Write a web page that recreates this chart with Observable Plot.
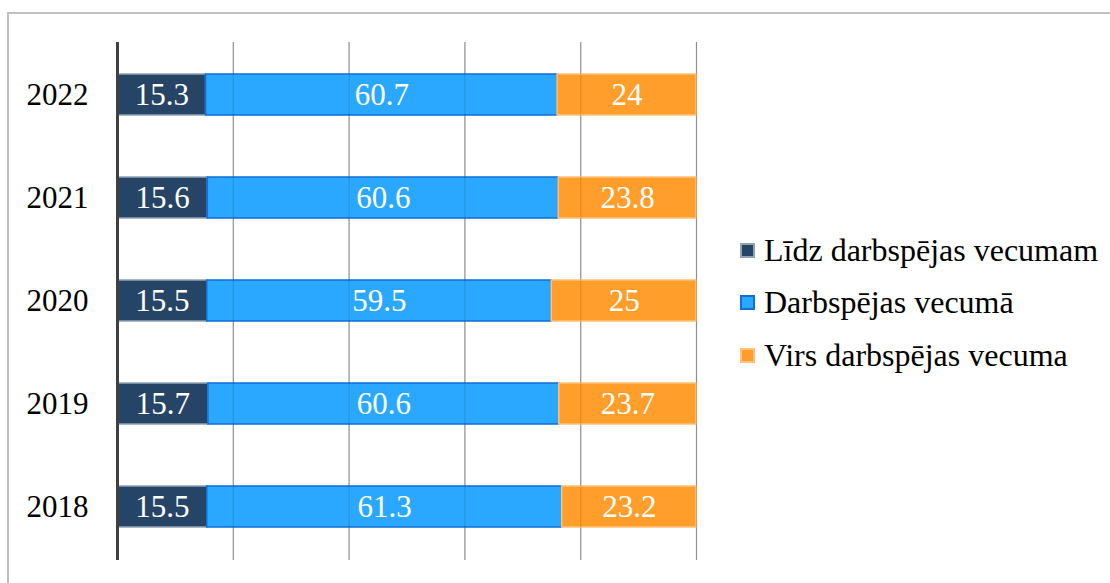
<!DOCTYPE html>
<html><head><meta charset="utf-8">
<script src="https://cdn.jsdelivr.net/npm/d3@7"></script>
<script src="https://cdn.jsdelivr.net/npm/@observablehq/plot@0.6"></script>
<style>
html,body{margin:0;padding:0;background:#fff;}
#wrap{position:relative;width:1110px;height:583px;overflow:hidden;}
#frame{position:absolute;left:7px;top:12px;width:1200px;height:700px;border-top:2px solid #c0c0c0;border-left:2px solid #c0c0c0;box-sizing:border-box;}
#chart{position:absolute;left:0;top:0;}
#legend{position:absolute;left:740px;top:224px;font-size:32px;color:#000;}
.item{display:flex;align-items:center;height:52.5px;white-space:nowrap;}
.sw{width:15px;height:15px;margin-right:9px;box-sizing:border-box;flex:none;}
</style></head>
<body><div id="wrap"><div id="frame"></div><div id="chart"></div><div id="legend"></div></div>
<script>
const years = ["2022","2021","2020","2019","2018"];
const categories = ["Līdz darbspējas vecumam","Darbspējas vecumā","Virs darbspējas vecuma"];
const below = [15.3, 15.6, 15.5, 15.7, 15.5];
const working = [60.7, 60.6, 59.5, 60.6, 61.3];
const above = [24, 23.8, 25, 23.7, 23.2];
const gridTicks = [20, 40, 60, 80, 100];
const colors = ["#264466", "#2aa8ff", "#ff9e2a"];
const strokes = ["#8fa3b5", "#0f6fd8", "#ffc27a"];

const series = [below, working, above];
const data = [];
years.forEach((y, i) => series.forEach((s, k) => data.push({year: y, cat: categories[k], value: s[i]})));

const font = "'Liberation Serif', 'Times New Roman', Times, serif";
document.getElementById("legend").style.fontFamily = font;
const plot = Plot.plot({
  width: 1110, height: 583,
  marginLeft: 117, marginRight: 414, marginTop: 42, marginBottom: 23,
  style: {fontFamily: font, background: "transparent", overflow: "visible"},
  x: {domain: [0, 100], axis: null},
  y: {domain: years, paddingInner: 0.6, paddingOuter: 0.3, label: null, tickSize: 0, tickPadding: 29, fontSize: 31},
  color: {domain: categories, range: colors},
  marks: [
    Plot.ruleX(gridTicks, {stroke: "#a6a6a6", strokeWidth: 1.2}),
    Plot.barX(data, Plot.stackX({x: "value", y: "year", z: "cat", fill: "cat",
      stroke: "cat", strokeWidth: 1.5})),
    Plot.ruleX(gridTicks, {stroke: "#000", strokeOpacity: 0.12, strokeWidth: 1.2}),
    Plot.text(data, Plot.stackX({x: "value", y: "year", z: "cat", text: d => String(d.value),
      fill: "white", fontSize: 31, fontFamily: font})),
    Plot.ruleX([0], {stroke: "#404040", strokeWidth: 3})
  ]
});
d3.select(plot).selectAll("g[aria-label=bar] rect").each(function(){
  const idx = colors.indexOf(this.getAttribute("fill"));
  if (idx >= 0) this.setAttribute("stroke", strokes[idx]);
});
d3.select(plot).selectAll("g[aria-label='y-axis tick label']").attr("font-size", 31).attr("fill", "#000").style("font-family", font);
document.getElementById("chart").appendChild(plot);

const lg = document.getElementById("legend");
categories.forEach((c, k) => {
  const it = document.createElement("div"); it.className = "item";
  const sw = document.createElement("div"); sw.className = "sw";
  sw.style.background = colors[k]; sw.style.border = "2px solid " + strokes[k];
  const t = document.createElement("span"); t.textContent = c; t.style.fontFamily = font;
  it.appendChild(sw); it.appendChild(t); lg.appendChild(it);
});
</script></body></html>
